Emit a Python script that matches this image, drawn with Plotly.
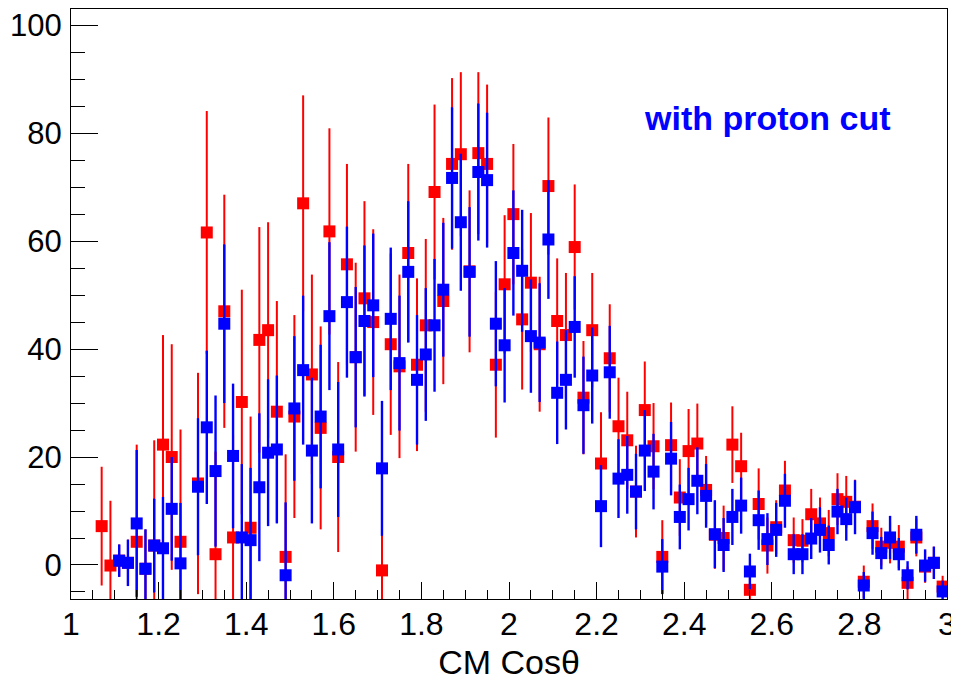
import plotly.graph_objects as go

bin_centers = [1.07, 1.09, 1.11, 1.13, 1.15, 1.17, 1.19, 1.21, 1.23, 1.25, 1.27, 1.29, 1.31, 1.33, 1.35, 1.37, 1.39,
               1.41, 1.43, 1.45, 1.47, 1.49, 1.51, 1.53, 1.55, 1.57, 1.59, 1.61, 1.63, 1.65, 1.67, 1.69,
               1.71, 1.73, 1.75, 1.77, 1.79, 1.81, 1.83, 1.85, 1.87, 1.89, 1.91, 1.93, 1.95, 1.97, 1.99,
               2.01, 2.03, 2.05, 2.07, 2.09, 2.11, 2.13, 2.15, 2.17, 2.19, 2.21, 2.23, 2.25, 2.27, 2.29,
               2.31, 2.33, 2.35, 2.37, 2.39, 2.41, 2.43, 2.45, 2.47, 2.49, 2.51, 2.53, 2.55, 2.57, 2.59,
               2.61, 2.63, 2.65, 2.67, 2.69, 2.71, 2.73, 2.75, 2.77, 2.79, 2.81, 2.83, 2.85, 2.87, 2.89,
               2.91, 2.93, 2.95, 2.97, 2.99]

red_values = [7.2, -0.1, 0.8, 0.4, 4.3, -0.7, 3.6, 22.3, 20.0, 4.3, None, 15.1, 61.6, 2.0, 47.0, 5.1, 30.2,
              6.9, 41.7, 43.5, 28.4, 1.5, 27.5, 67.0, 35.3, 25.4, 61.8, 20.0, 55.7, 38.5, 49.4, 45.0,
              -1.0, 40.9, 36.8, 57.8, 37.1, 44.4, 69.1, 48.9, 74.3, 76.1, 54.4, 76.3, 74.3, 37.1, 52.0,
              65.0, 45.5, 52.3, 40.9, 70.2, 45.2, 42.6, 58.9, 31.0, 43.5, 18.8, 38.3, 25.7, 23.1, 13.6,
              28.7, 22.0, 1.5, 22.2, 12.5, 21.1, 22.5, 13.9, 5.6, 5.0, 22.3, 18.3, -4.6, 11.3, 3.6,
              7.0, 13.8, 4.6, 4.5, 9.4, 7.7, 5.9, 12.2, 11.7, 10.8, -3.1, 7.2, 3.4, 4.1, 3.4,
              -3.3, 5.1, -0.3, 0.4, -4.0]
red_errors = [11, 12, 3, 4.3, 18, 7.3, 19.5, 20.3, 20.9, 20.8, None, 20.5, 22.5, 19, 21.6, 19, 20.8,
              20.6, 20.9, 20, 20.5, 19, 18.8, 20, 18.5, 18.8, 19.1, 17.6, 18.6, 17.5, 18, 17.2,
              17, 16.8, 17, 16.5, 16, 16, 16.2, 15.4, 15.9, 15.2, 15, 15, 14.7, 13.5, 12.8,
              13, 13, 12.9, 12.5, 12.7, 11.6, 11.5, 11.6, 10.5, 10.6, 9.5, 10, 9, 9, 8.5,
              9, 8, 6.8, 7.9, 7.1, 7.8, 7.4, 6.3, 6.3, 6, 7.1, 6.2, 3, 6.6, 5.2,
              5, 5.5, 4.2, 4, 4.7, 4.8, 4.3, 4.8, 4.8, 5, 3, 4.2, 3.5, 3.8, 4,
              3, 3.5, 3, 3, 2]

blue_values = [None, None, 0.8, 0.4, 7.7, -0.7, 3.6, 3.1, 10.4, 0.3, None, 14.5, 25.5, 17.4, 44.7, 20.2, 5.1,
               4.6, 14.4, 20.8, 21.4, -1.9, 29.0, 36.1, 21.2, 27.5, 46.1, 21.4, 48.7, 38.5, 45.2, 48.1,
               17.9, 45.6, 37.4, 54.3, 34.3, 39.0, 44.4, 51.0, 71.7, 63.5, 54.3, 72.8, 71.3, 44.7, 40.7,
               57.8, 54.5, 42.4, 41.2, 60.3, 31.9, 34.3, 44.1, 29.6, 35.1, 10.9, 35.7, 16.0, 16.7, 13.6,
               21.2, 17.3, -0.3, 19.7, 8.9, 12.2, 15.6, 12.8, 5.7, 3.7, 8.9, 11.0, -1.2, 8.3, 4.8,
               6.5, 11.9, 2.0, 2.0, 4.9, 6.5, 3.7, 9.9, 8.5, 10.7, -3.8, 5.9, 2.2, 5.1, 2.0,
               -1.9, 5.6, -0.1, 0.4, -4.9]
blue_errors = [None, None, 3, 4.3, 13.6, 7.3, 8.7, 9.5, 9.6, 11.2, None, 12.7, 14.2, 14, 14.7, 13.4, 13.6,
               13.4, 13.7, 13.6, 13.7, 13.5, 13.4, 13.8, 13.5, 13.3, 13.7, 12.5, 14, 13, 14, 13.3,
               12.5, 13.2, 12.5, 13.1, 12, 12.3, 12.3, 12.4, 13.1, 12.7, 12, 12.7, 12.5, 11.6, 10.6,
               11.6, 11.3, 10.5, 11, 11, 9.5, 9.2, 9.4, 9, 8.9, 7.6, 8.6, 7.3, 7.2, 7,
               7.5, 7, 5.1, 6.8, 6, 5.8, 6.2, 5.9, 6.3, 5, 5.2, 5.2, 3.3, 5.5, 4.8,
               5, 5, 3.7, 3.7, 3.8, 4.2, 3.6, 4.2, 4, 5, 2.5, 4, 3, 4, 3,
               2.6, 3.5, 3, 3, 2]

x_tick_vals = [1, 1.2, 1.4, 1.6, 1.8, 2, 2.2, 2.4, 2.6, 2.8, 3]
x_tick_text = ["1", "1.2", "1.4", "1.6", "1.8", "2", "2.2", "2.4", "2.6", "2.8", "3"]
y_tick_vals = [0, 20, 40, 60, 80, 100]

FONT = "Liberation Sans, Arial, sans-serif"

fig = go.Figure()
fig.add_trace(go.Scatter(
    x=bin_centers, y=red_values, mode="markers",
    marker=dict(symbol="square", size=12, color="#ff0000"),
    error_y=dict(type="data", array=red_errors, visible=True, width=0, thickness=2, color="#ff0000"),
    showlegend=False))
fig.add_trace(go.Scatter(
    x=bin_centers, y=blue_values, mode="markers",
    marker=dict(symbol="square", size=12, color="#0000ff"),
    error_y=dict(type="data", array=blue_errors, visible=True, width=0, thickness=2.4, color="#0000ff"),
    showlegend=False))

fig.add_annotation(x=2.59, y=82.8, xref="x", yref="y", text="<b>with proton cut</b>",
                   showarrow=False, font=dict(family=FONT, size=34, color="#0000ff"))

# the page body adds an 8px offset; the figure is sized to fit the 959x688 window
fig.update_layout(
    width=951, height=680,
    margin=dict(l=63, r=12, t=1, b=89),
    paper_bgcolor="white", plot_bgcolor="white",
    font=dict(family=FONT, size=32, color="black"),
)
fig.update_xaxes(
    range=[1, 3], tickvals=x_tick_vals, ticktext=x_tick_text,
    ticks="inside", ticklen=17, tickwidth=1, tickcolor="black",
    minor=dict(dtick=0.05, tick0=1, ticks="inside", ticklen=9, tickcolor="black", tickwidth=1),
    showline=True, linecolor="black", linewidth=1, mirror=True,
    showgrid=False, zeroline=False, automargin=False,
    tickfont=dict(size=32), ticklabelstandoff=-3,
    title=dict(text="CM Cos\u03b8", font=dict(size=34), standoff=8),
)
fig.update_yaxes(
    range=[-6.3, 103], tickvals=y_tick_vals,
    ticks="inside", ticklen=27, tickwidth=1, tickcolor="black",
    minor=dict(dtick=5, tick0=0, ticks="inside", ticklen=14, tickcolor="black", tickwidth=1),
    showline=True, linecolor="black", linewidth=1, mirror=True,
    showgrid=False, zeroline=False, automargin=False,
    tickfont=dict(size=31), ticklabelstandoff=2,
)

fig.write_html("out.html")
